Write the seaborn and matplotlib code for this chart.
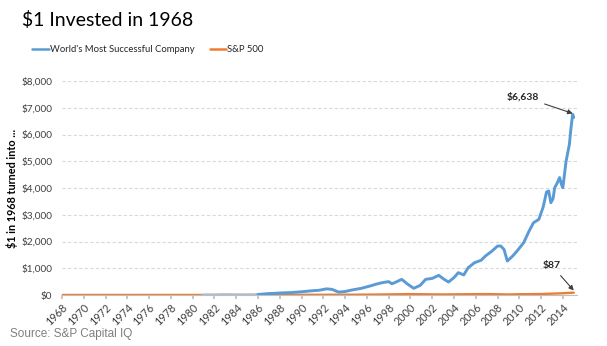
import numpy as np
import pandas as pd
import matplotlib
matplotlib.use("Agg")
import matplotlib.pyplot as plt
import seaborn as sns
from matplotlib.lines import Line2D

# ---- data ----
company_years = [1980.9, 1982, 1983, 1984, 1985, 1986, 1987, 1987.5, 1988, 1989, 1990,
                 1991, 1991.6, 1992.3, 1992.8, 1993.4, 1994.0, 1994.6, 1995.5, 1996.5,
                 1996.8, 1997.4, 1998.0, 1998.3, 1998.6, 1999.2, 1999.7, 2000.3, 2000.9,
                 2001.4, 2002.0, 2002.6, 2003.1, 2003.5, 2004.0, 2004.4, 2004.9, 2005.3,
                 2005.9, 2006.5, 2006.9, 2007.5, 2008.0, 2008.3, 2008.6, 2008.9, 2009.4,
                 2009.8, 2010.4, 2010.9, 2011.3, 2011.8, 2012.2, 2012.5, 2012.7, 2012.9,
                 2013.1, 2013.25, 2013.5, 2013.7, 2013.9, 2014.0, 2014.3, 2014.6, 2014.75,
                 2014.9, 2015.0]
company_values = [10, 12, 25, 15, 12, 20, 55, 60, 75, 90, 120,
                  160, 175, 230, 210, 110, 130, 185, 250, 360,
                  400, 460, 500, 420, 470, 585, 420, 250, 360,
                  585, 620, 735, 585, 485, 650, 835, 750, 1020,
                  1210, 1300, 1460, 1645, 1830, 1830, 1700, 1270, 1460,
                  1645, 1955, 2390, 2700, 2830, 3300, 3850, 3890, 3450,
                  3600, 4010, 4200, 4390, 4100, 4010, 5010, 5630, 6250,
                  6755, 6638]

sp_years = [1968, 1970, 1973, 1974, 1980, 1982, 1985, 1987, 1988, 1990, 1992, 1995,
            1997, 1998, 2000, 2002, 2003, 2005, 2007, 2009, 2010, 2011, 2012, 2013,
            2014, 2015.0]
sp_values = [1, 1.0, 1.3, 0.9, 1.9, 2.1, 3.5, 5, 5, 6.5, 8.5, 11,
             18, 23, 33, 24, 20, 28, 35, 20, 28, 32, 36, 50, 65, 87]

tick_years = list(range(1968, 2015, 2))
y_ticks = [0, 1000, 2000, 3000, 4000, 5000, 6000, 7000, 8000]

title = "$1 Invested in 1968"
company_name = "World's Most Successful Company"
sp_name = "S&P 500"
ylabel = "$1 in 1968 turned into ..."
source = "Source: S&P Capital IQ"

BLUE = "#5B9BD5"
ORANGE = "#ED7D31"

sns.set_theme(style="white")
plt.rcParams['font.family'] = ['Lato', 'DejaVu Sans']

fig = plt.figure(figsize=(6.07, 3.46), dpi=100)
ax = fig.add_axes([62/607, 1-295/346, (577-62)/607, (295-81)/346])

comp = pd.DataFrame({"year": company_years, "value": company_values})
sp = pd.DataFrame({"year": sp_years, "value": sp_values})

early = comp[comp["year"] <= 1986]
sns.lineplot(data=sp, x="year", y="value", color=ORANGE, lw=1.7, ax=ax, zorder=2)
sns.lineplot(data=early, x="year", y="value", color="#A8BCD6", lw=1.6, ax=ax, zorder=3)
sns.lineplot(data=comp[comp["year"] >= 1986], x="year", y="value", color=BLUE, lw=2.1,
             ax=ax, zorder=3)

ax.set_xlim(1968, 2015.3)
ax.set_ylim(0, 8000)
ax.set_yticks(y_ticks)
ax.set_yticklabels([f"${v:,}" for v in y_ticks], fontsize=7.2, color="#404040")
ax.set_xticks(tick_years)
ax.set_xticklabels([str(y) for y in tick_years], rotation=45, ha="right",
                   rotation_mode="anchor", fontsize=7.8, color="#404040")
ax.tick_params(axis="x", length=3, color="#BFBFBF", direction="out", bottom=True, pad=2)
ax.tick_params(axis="y", length=0, pad=7)
ax.set_xlabel("")
ax.set_ylabel(ylabel, fontsize=7.8, fontweight="bold", color="black", labelpad=2)

for v in y_ticks[1:]:
    ax.axhline(v, color="#D9D9D9", lw=0.8, ls=(0, (3, 2)), zorder=1)

for s in ["top", "right", "left"]:
    ax.spines[s].set_visible(False)
ax.spines["bottom"].set_color("#BFBFBF")
ax.spines["bottom"].set_linewidth(0.8)

# annotations
ax.annotate(f"${company_values[-1]:,}", xy=(company_years[-1] - 0.1, company_values[-1] + 150),
            xytext=(2010.3, 7420), fontsize=7.5, fontweight="bold", ha="center",
            va="center", arrowprops=dict(arrowstyle="-|>", color="#404040", lw=0.8,
                                         mutation_scale=7, shrinkA=2, shrinkB=0))
ax.annotate(f"${sp_values[-1]}", xy=(sp_years[-1], sp_values[-1] + 80),
            xytext=(2013.0, 1095), fontsize=7.5, fontweight="bold", ha="center",
            va="center", arrowprops=dict(arrowstyle="-|>", color="#404040", lw=0.8,
                                         mutation_scale=7, shrinkA=2, shrinkB=0))

fig.text(22/607, 1-20/346, title, fontsize=14, ha="left", va="center", color="black")

# legend
handles = [Line2D([], [], color=BLUE, lw=1.8), Line2D([], [], color=ORANGE, lw=1.8)]
fig.legend(handles, [company_name, sp_name], loc="center left",
           bbox_to_anchor=(24/607, 1-50/346), ncol=2, frameon=False, fontsize=6.8,
           handlelength=1.7, handletextpad=0.15, columnspacing=1.6)

fig.text(10/607, 1-334/346, source, fontsize=8.5, ha="left", va="center",
         color="#7F7F7F", family=["Liberation Sans", "DejaVu Sans"])

fig.savefig("out.png", dpi=100)
